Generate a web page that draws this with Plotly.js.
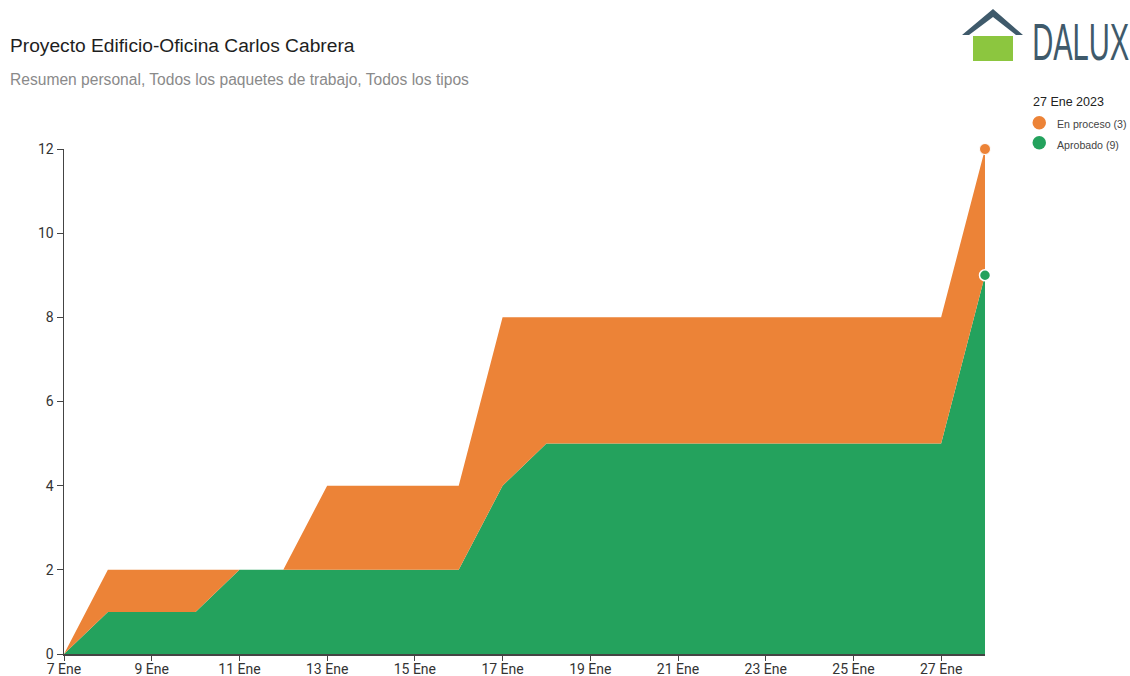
<!DOCTYPE html>
<html lang="es">
<head>
<meta charset="utf-8">
<title>Proyecto Edificio-Oficina Carlos Cabrera</title>
<script src="https://cdn.plot.ly/plotly-3.0.1.min.js"></script>
<style>html,body{margin:0;padding:0;background:#fff}#chart{width:1130px;height:676px}</style>
</head>
<body>
<div id="chart"></div>
<script>
// Daily issue counts per status for the personal summary
const days = ["2023-01-07","2023-01-08","2023-01-09","2023-01-10","2023-01-11","2023-01-12","2023-01-13","2023-01-14","2023-01-15","2023-01-16","2023-01-17","2023-01-18","2023-01-19","2023-01-20","2023-01-21","2023-01-22","2023-01-23","2023-01-24","2023-01-25","2023-01-26","2023-01-27","2023-01-28"];
const aprobado  = [0,1,1,1,2,2,2,2,2,2,4,5,5,5,5,5,5,5,5,5,5,9];
const enProceso = [0,1,1,1,0,0,2,2,2,2,4,3,3,3,3,3,3,3,3,3,3,3];
const tickDates = ["2023-01-07","2023-01-09","2023-01-11","2023-01-13","2023-01-15","2023-01-17","2023-01-19","2023-01-21","2023-01-23","2023-01-25","2023-01-27"];
const tickLabels = ["7 Ene","9 Ene","11 Ene","13 Ene","15 Ene","17 Ene","19 Ene","21 Ene","23 Ene","25 Ene","27 Ene"];
const yTicks = [0,2,4,6,8,10,12];

const ORANGE = "#ec8337", GREEN = "#24a25d", SLATE = "#3f5a6b", LEAF = "#8cc63f";
const W = 1130, H = 676;
const M = {l: 64, r: 145, t: 149, b: 22};

// Pixel helpers for the page furniture (logo and legend dots)
const px = x => (x - M.l) / (W - M.l - M.r);
const py = y => (H - M.b - y) / (H - M.t - M.b);
const poly = pts => "M" + pts.map(p => px(p[0]) + "," + py(p[1])).join("L") + "Z";

const last = days.length - 1;
const traces = [
  {x: days, y: aprobado, name: "Aprobado", type: "scatter", mode: "none", stackgroup: "s",
   fillcolor: GREEN, showlegend: false, hoverinfo: "x+y+name"},
  {x: days, y: enProceso, name: "En proceso", type: "scatter", mode: "none", stackgroup: "s",
   fillcolor: ORANGE, showlegend: false, hoverinfo: "x+y+name"},
  {x: [days[last]], y: [aprobado[last] + enProceso[last]], type: "scatter", mode: "markers", cliponaxis: false,
   marker: {color: ORANGE, size: 11, line: {color: "#fff", width: 1}}, showlegend: false, hoverinfo: "skip"},
  {x: [days[last]], y: [aprobado[last]], type: "scatter", mode: "markers", cliponaxis: false,
   marker: {color: GREEN, size: 11, line: {color: "#fff", width: 1.5}}, showlegend: false, hoverinfo: "skip"}
];

const layout = {
  width: W, height: H, margin: M, paper_bgcolor: "#fff", plot_bgcolor: "#fff", showlegend: false,
  font: {family: "Roboto, sans-serif", color: "#333"},
  xaxis: {type: "date", range: ["2023-01-07", "2023-01-28"], tickmode: "array", tickvals: tickDates, ticktext: tickLabels,
          ticks: "outside", ticklen: 5, tickcolor: "#444", tickwidth: 1, ticklabelstandoff: -3, showline: true, linecolor: "#444", linewidth: 1.5,
          showgrid: false, zeroline: false, tickfont: {family: "Roboto, sans-serif", size: 14, color: "#333"}},
  yaxis: {range: [0, 12], tickmode: "array", tickvals: yTicks,
          ticks: "outside", ticklen: 6, tickcolor: "#444", tickwidth: 1, showline: true, linecolor: "#444", linewidth: 1.5,
          showgrid: false, zeroline: false, tickfont: {family: "Roboto, sans-serif", size: 14, color: "#333"}},
  shapes: [
    {type: "path", xref: "paper", yref: "paper", layer: "above", fillcolor: SLATE, line: {width: 0},
     path: poly([[993,9],[1023,35],[1016,35],[993,17],[969,35],[962,35]])},
    {type: "path", xref: "paper", yref: "paper", layer: "above", fillcolor: LEAF, line: {width: 0},
     path: poly([[973,36],[1013,36],[1013,61],[973,61]])},
    {type: "circle", xref: "paper", yref: "paper", layer: "above", fillcolor: ORANGE, line: {width: 0},
     x0: px(1032.5), x1: px(1046), y0: py(129.5), y1: py(116)},
    {type: "circle", xref: "paper", yref: "paper", layer: "above", fillcolor: GREEN, line: {width: 0},
     x0: px(1032.5), x1: px(1046), y0: py(149.5), y1: py(136)}
  ],
  annotations: [
    {text: "Proyecto Edificio-Oficina Carlos Cabrera", xref: "paper", yref: "paper", x: px(7.5), y: py(45), xanchor: "left", yanchor: "middle",
     showarrow: false, font: {family: "Liberation Sans, sans-serif", size: 19.2, color: "#1e1e1e"}},
    {text: "Resumen personal, Todos los paquetes de trabajo, Todos los tipos", xref: "paper", yref: "paper", x: px(7.5), y: py(79), xanchor: "left", yanchor: "middle",
     showarrow: false, font: {family: "Liberation Sans, sans-serif", size: 15.6, color: "#8a8a8a"}},
    {text: "DALUX", xref: "paper", yref: "paper", x: px(1080.5), y: py(42), xanchor: "center", yanchor: "middle",
     showarrow: false, font: {family: "Liberation Sans, sans-serif", size: 52, color: SLATE}},
    {text: "27 Ene 2023", xref: "paper", yref: "paper", x: px(1031), y: py(102), xanchor: "left", yanchor: "middle",
     showarrow: false, font: {family: "Liberation Sans, sans-serif", size: 12.5, color: "#222"}},
    {text: "En proceso (3)", xref: "paper", yref: "paper", x: px(1055), y: py(124.5), xanchor: "left", yanchor: "middle",
     showarrow: false, font: {family: "Liberation Sans, sans-serif", size: 10.6, color: "#444"}},
    {text: "Aprobado (9)", xref: "paper", yref: "paper", x: px(1055), y: py(145), xanchor: "left", yanchor: "middle",
     showarrow: false, font: {family: "Liberation Sans, sans-serif", size: 10.6, color: "#444"}}
  ]
};

Plotly.newPlot("chart", traces, layout, {displayModeBar: false, staticPlot: true}).then(gd => {
  // The wordmark is set in very condensed letters, so squeeze the text horizontally
  gd.querySelectorAll(".annotation text").forEach(t => {
    if (t.textContent === "DALUX") {
      t.style.transformBox = "fill-box";
      t.style.transformOrigin = "center";
      t.style.transform = "scaleX(0.56)";
    }
  });
});
</script>
</body>
</html>
